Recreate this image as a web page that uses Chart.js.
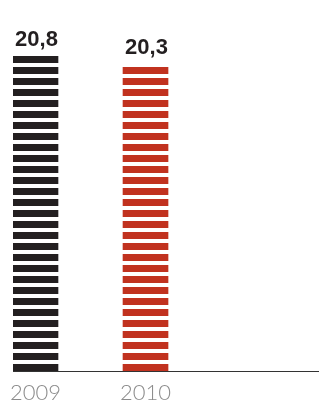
<!DOCTYPE html>
<html>
<head>
<meta charset="utf-8">
<script src="https://cdn.jsdelivr.net/npm/chart.js@4/dist/chart.umd.min.js"></script>
<style>
  html, body { margin: 0; padding: 0; background: #fff; }
  #wrap { width: 319px; height: 401px; position: relative; }
</style>
</head>
<body>
<div id="wrap"><canvas id="chart" width="319" height="401"></canvas></div>
<script>
const years = ['2009', '2010'];
const values = [20.8, 20.3];
const barColors = ['#231f20', '#c1321f'];

// horizontal stripes, 7px ink + 4px gap, lined up on the canvas grid
function stripes(color) {
  const c = document.createElement('canvas');
  c.width = 8;
  c.height = 11;
  const g = c.getContext('2d');
  g.fillStyle = color;
  g.fillRect(0, 1, 8, 7);
  return g.createPattern(c, 'repeat');
}

const valueLabels = {
  id: 'valueLabels',
  afterDatasetsDraw(chart) {
    const ctx = chart.ctx;
    ctx.save();
    ctx.font = 'bold 22px "Liberation Sans", Arial, sans-serif';
    ctx.fillStyle = '#231f20';
    ctx.textAlign = 'center';
    ctx.textBaseline = 'alphabetic';
    chart.getDatasetMeta(0).data.forEach((bar, i) => {
      ctx.fillText(values[i].toFixed(1).replace('.', ','), bar.x + 1, bar.y - 10);
    });
    ctx.restore();
  }
};

new Chart(document.getElementById('chart'), {
  type: 'bar',
  data: {
    datasets: [{
      data: values.map((v, i) => ({ x: i, y: v })),
      backgroundColor: barColors.map(stripes),
      borderWidth: 0,
      barThickness: 45
    }]
  },
  options: {
    responsive: false,
    animation: false,
    layout: { padding: { left: 13, right: 0, top: 56, bottom: 0 } },
    plugins: { legend: { display: false }, tooltip: { enabled: false } },
    scales: {
      x: {
        type: 'linear',
        offset: false,
        min: -0.2045,
        max: 2.577,
        afterBuildTicks: s => { s.ticks = years.map((_, i) => ({ value: i })); },
        afterFit: s => { s.height = 30; s.paddingLeft = 0; s.paddingRight = 0; },
        grid: { display: false, drawTicks: false, offset: false },
        border: { display: true, color: '#333', width: 1 },
        ticks: {
          autoSkip: false,
          maxRotation: 0,
          padding: 9,
          color: '#8c8c8c',
          font: { family: 'Lato, "Liberation Sans", sans-serif', size: 22, weight: 300 },
          callback: v => years[v] ?? ''
        }
      },
      y: { display: false, min: 0, max: 20.8 }
    }
  },
  plugins: [valueLabels]
});
</script>
</body>
</html>
